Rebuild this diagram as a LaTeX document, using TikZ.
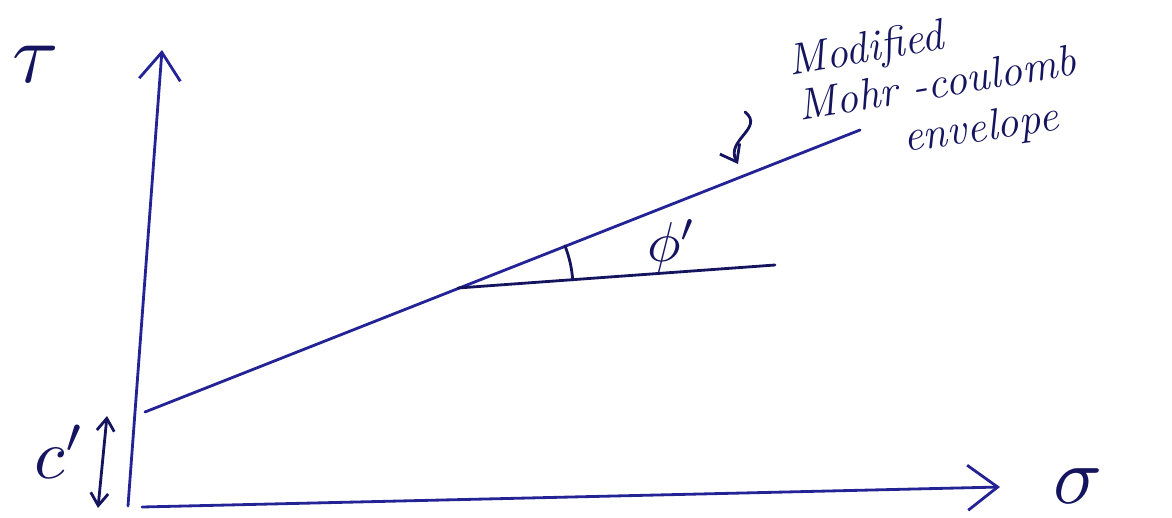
\documentclass[tikz,border=0pt]{standalone}
\usetikzlibrary{arrows.meta}
\definecolor{ink}{RGB}{20,20,95}
\definecolor{pen}{RGB}{35,35,150}
\begin{document}
\begin{tikzpicture}[x=0.02cm,y=-0.02cm,
  axis/.style={draw=pen,line width=1.6pt,line cap=round},
  hand/.style={draw=ink,line width=1.6pt,line cap=round},
  lbl/.style={text=ink,inner sep=0pt,font=\itshape\fontsize{25}{28}\selectfont},
  sym/.style={text=ink,inner sep=0pt,scale=#1},
  barb/.style={-{Straight Barb[length=#1,width=1.5*#1,line width=1.6pt]}}]
\useasboundingbox (0,0) rectangle (1172,517);
% axes
\coordinate (O) at (128,506);
\coordinate (Ytop) at (162,50);
\coordinate (X0) at (142,507);
\coordinate (Xend) at (1000,487);
\draw[axis,barb=0.55cm] (O) -- (Ytop);
\draw[axis,barb=0.6cm] (X0) -- (Xend);
% envelope
\coordinate (E0) at (145,412);
\coordinate (E1) at (860,130);
\draw[axis] (E0) -- (E1);
% horizontal reference and angle
\coordinate (H0) at (458,288);
\coordinate (H1) at (775,265);
\draw[hand] (H0) -- (H1);
\draw[hand] ([shift={(4:2.3cm)}]H0) arc[start angle=4,end angle=21.5,radius=2.3cm];
% labels
\node[sym=4.8] (tau) at (36,64) {$\tau$};
\node[sym=4.6] (sigma) at (1078,486) {$\sigma$};
\node[sym=4] (c) at (60,452) {$c'$};
\node[sym=3.2] (phi) at (672,246) {$\phi'$};
% c' extent arrow
\coordinate (c0) at (107,416);
\coordinate (c1) at (98,508);
\draw[hand,{Straight Barb[length=0.25cm,width=0.35cm,line width=1.6pt]}-{Straight Barb[length=0.25cm,width=0.35cm,line width=1.6pt]}] (c0) -- (c1);
% label
\node[lbl,rotate=10,anchor=base west] (l1) at (790,76) {Modified};
\node[lbl,rotate=9.5,anchor=base west] (l2) at (800,121) {Mohr -coulomb};
\node[lbl,rotate=8,anchor=base west] (l3) at (905,152) {envelope};
% pointer arrow
\coordinate (p0) at (745,112);
\coordinate (p1) at (738,164);
\draw[hand,barb=0.3cm] (p0) .. controls (765,128) and (725,140) .. (p1);
\end{tikzpicture}
\end{document}
